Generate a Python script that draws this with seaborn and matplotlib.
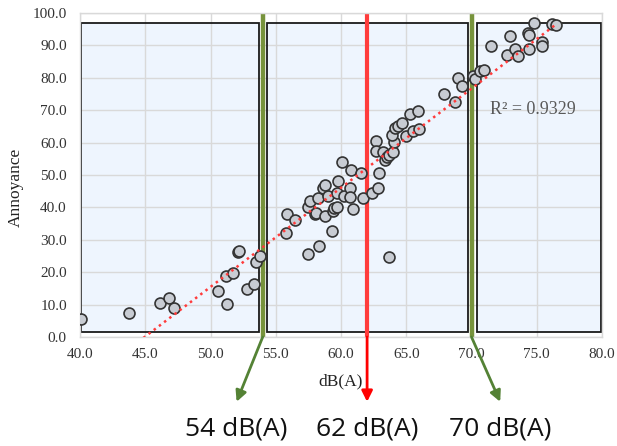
import numpy as np
import pandas as pd
import matplotlib
matplotlib.use("Agg")
import matplotlib.pyplot as plt
from matplotlib.patches import Rectangle
import seaborn as sns

# ---- data ----
db = [40.1, 43.75, 46.1, 46.8, 47.2, 50.6, 51.3, 51.2, 51.75, 52.1, 52.2, 52.8, 53.3, 53.5, 53.8,
      55.9, 55.8, 56.5, 57.5, 58.3, 57.45, 57.6, 58.2, 58.0, 58.1, 58.8, 59.3, 58.6, 58.8, 59.0,
      59.4, 59.5, 59.7, 59.7, 59.8, 60.2, 60.7, 60.7, 60.9, 61.7, 60.1, 60.8, 61.5, 62.4, 62.8,
      62.9, 63.7, 62.7, 62.7, 63.2, 63.4, 63.5, 63.7, 63.95, 64.06, 63.9, 64.1, 64.4, 64.7, 65.0,
      65.5, 65.95, 65.3, 65.9, 67.9, 68.7, 69.0, 69.25, 70.1, 70.3, 70.65, 70.96, 71.5, 72.95, 72.7,
      73.3, 73.6, 74.3, 74.4, 74.4, 74.8, 75.4, 75.4, 76.2, 76.45]
annoyance = [5.5, 7.3, 10.6, 11.9, 8.95, 14.2, 10.2, 18.9, 19.8, 26.1, 26.5, 14.8, 16.4, 23.2, 25.0,
             37.9, 32.2, 36.0, 25.5, 28.2, 40.0, 42.0, 42.9, 38.1, 38.4, 37.2, 32.7, 45.9, 46.9, 43.5,
             38.9, 39.7, 40.2, 44.5, 48.1, 43.5, 45.9, 43.1, 39.4, 43.0, 53.9, 51.5, 50.5, 44.5, 45.9,
             50.7, 24.7, 60.6, 57.5, 57.0, 54.6, 55.7, 56.2, 57.2, 60.3, 62.3, 64.4, 65.1, 65.9, 62.0,
             63.6, 64.1, 68.8, 69.8, 74.9, 72.4, 79.8, 77.5, 80.6, 79.5, 82.1, 82.4, 89.9, 93.0, 87.0,
             88.8, 86.7, 93.7, 93.2, 88.8, 96.8, 91.0, 89.8, 96.5, 96.3]

thresholds = [54, 62, 70]
threshold_labels = ["54 dB(A)", "62 dB(A)", "70 dB(A)"]
box_x = [(40.05, 53.7), (54.35, 69.7), (70.4, 79.95)]
box_y = (1.6, 97.0)
r2_text = "R² = 0.9329"
x_ticks = [40, 45, 50, 55, 60, 65, 70, 75, 80]
y_ticks = [0, 10, 20, 30, 40, 50, 60, 70, 80, 90, 100]

df = pd.DataFrame({"dB(A)": db, "Annoyance": annoyance})

sns.set_theme(style="white")
plt.rcParams["font.family"] = ["Liberation Serif", "DejaVu Serif"]

fig = plt.figure(figsize=(6.17, 4.46), dpi=100)
ax = fig.add_axes([80 / 617, 1 - 337 / 446, 522 / 617, 324 / 446])

grid_c = "#d9d9d9"
ax.set_xlim(40, 80)
ax.set_ylim(0, 100)
ax.set_xticks(x_ticks)
ax.set_yticks(y_ticks)
ax.set_xticklabels([f"{t:.1f}" for t in x_ticks])
ax.set_yticklabels([f"{t:.1f}" for t in y_ticks])
ax.grid(True, color=grid_c, lw=1.0)
ax.set_axisbelow(True)
for s in ax.spines.values():
    s.set_color(grid_c)
    s.set_linewidth(1.0)
ax.tick_params(axis="x", length=0, pad=8, labelsize=11, labelcolor="#333333")
ax.tick_params(axis="y", length=0, pad=9.5, labelsize=11, labelcolor="#333333")

# boxes
for (x0, x1) in box_x:
    ax.add_patch(Rectangle((x0, box_y[0]), x1 - x0, box_y[1] - box_y[0],
                           facecolor="#eef5fe", edgecolor="none", zorder=0.2))
    ax.add_patch(Rectangle((x0, box_y[0]), x1 - x0, box_y[1] - box_y[0],
                           facecolor="none", edgecolor="#1a1a1a", lw=1.3, zorder=1.2))

# threshold lines
green_line = "#77933c"
green_arrow = "#548235"
ax.plot([thresholds[0]] * 2, [0, 100], color=green_line, lw=3.2, zorder=1.5, clip_on=False,
        solid_capstyle="butt")
ax.plot([thresholds[2]] * 2, [0, 100], color=green_line, lw=3.2, zorder=1.5, clip_on=False,
        solid_capstyle="butt")
ax.plot([thresholds[1]] * 2, [0, 100], color="#ff3c3c", lw=3.0, zorder=1.5, clip_on=False,
        solid_capstyle="butt")

# scatter
sns.scatterplot(data=df, x="dB(A)", y="Annoyance", ax=ax, s=62, color="#c8ccd3",
                edgecolor="#333333", linewidth=1.2, zorder=3, legend=False)

# linear trend line
coef = np.polyfit(df["dB(A)"], df["Annoyance"], 1)
xs = np.array([min(db), max(db)])
ax.plot(xs, np.polyval(coef, xs), color="#ff3b3b", lw=1.8, ls=(0, (1, 1.6)), zorder=4)

ax.text(74.7, 70.1, r2_text, ha="center", va="center", fontsize=13, color="#595959", zorder=5)

ax.set_xlabel("dB(A)", fontsize=12.5, color="#222222")
ax.set_ylabel("Annoyance", fontsize=12.5, color="#222222")
ax.xaxis.set_label_coords(0.5, -0.113)
ax.yaxis.set_label_coords(-0.108, 0.463)

# arrows below the axis
tip_y = -20.0
tips = [52.0, 62.0, 72.2]
colors = [green_arrow, "#ff0000", green_arrow]
for t, tx, c in zip(thresholds, tips, colors):
    ax.annotate("", xy=(tx, tip_y), xytext=(t, 0), annotation_clip=False,
                arrowprops=dict(arrowstyle="-|>", color=c, lw=2.0, mutation_scale=16,
                                shrinkA=0, shrinkB=0))
for tx, lab in zip(tips, threshold_labels):
    ax.text(tx, -28.4, lab, ha="center", va="center", fontsize=19, color="#111111",
            family=["Open Sans", "DejaVu Sans"], clip_on=False)

fig.savefig("out.png", dpi=100)
